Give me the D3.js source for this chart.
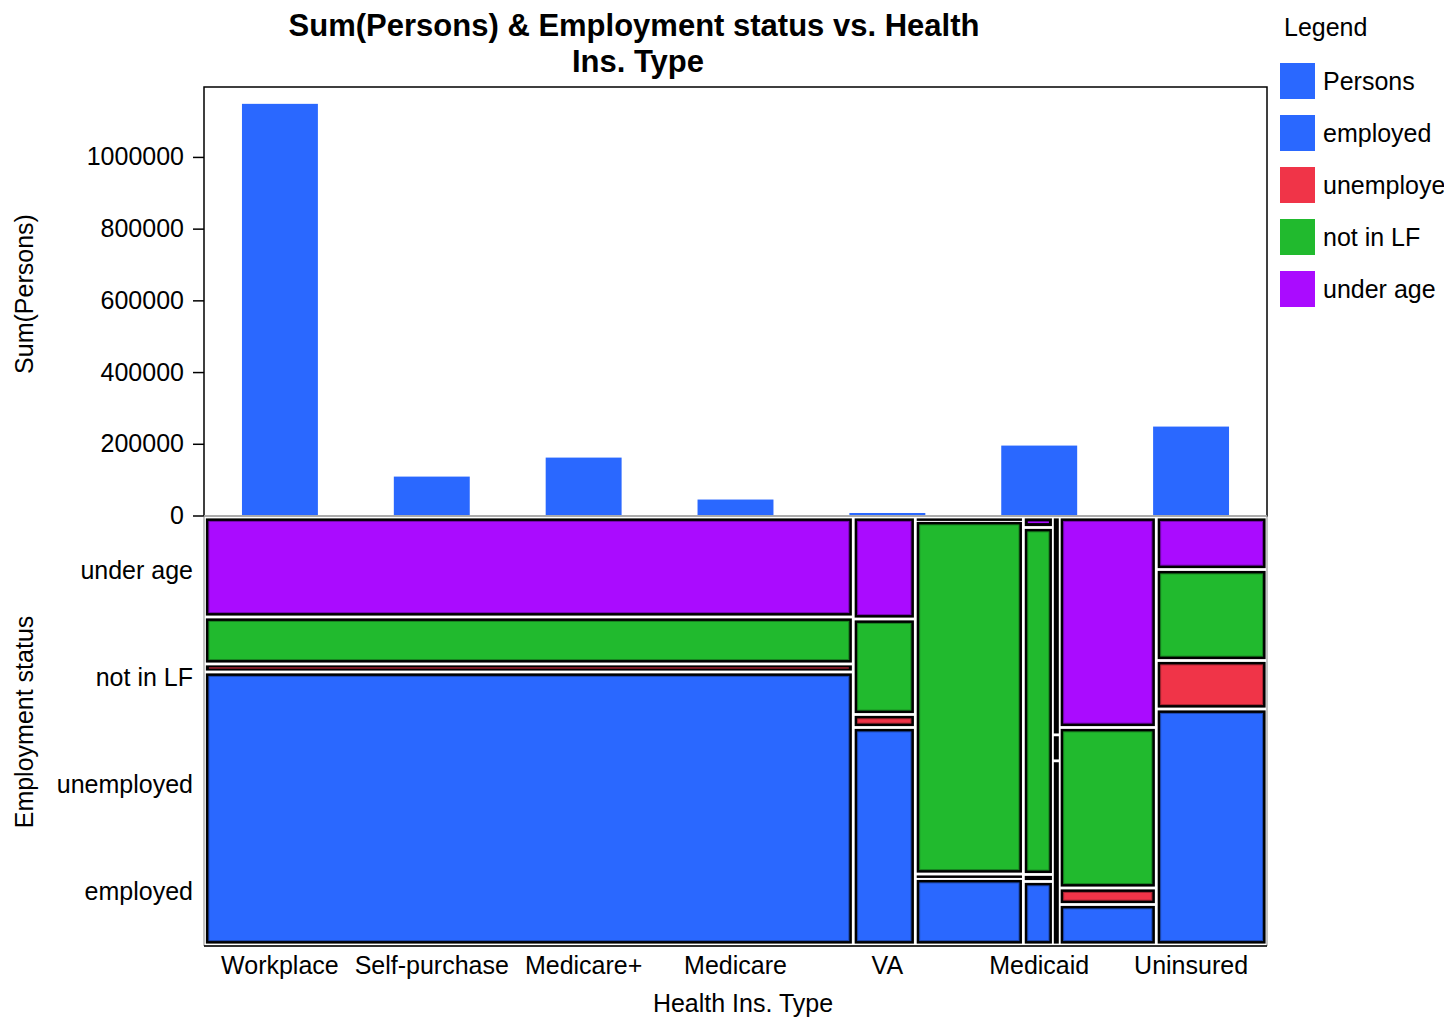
<!DOCTYPE html>
<html><head><meta charset="utf-8">
<script src="https://cdn.jsdelivr.net/npm/d3@7"></script>
<style>body{margin:0;background:#fff} text{font-family:"Liberation Sans",Arial,sans-serif;fill:#000}</style>
</head><body><svg id="c" width="1444" height="1020"></svg>
<script>
const categories = ["Workplace","Self-purchase","Medicare+","Medicare","VA","Medicaid","Uninsured"];
const sumPersons = [1148000,108500,161500,44500,7000,195000,248000];
const statuses = ["under age","not in LF","unemployed","employed"];
const mosaicShare = [0.6106,0.0584,0.1017,0.0282,0.0056,0.0913,0.1042];
const underAge   = [0.2336,0.2383,0.0082,0.0245,0.0000,0.4918,0.1227];
const notInLF    = [0.1098,0.2231,0.8260,0.8107,0.5090,0.3750,0.2126];
const unemployed = [0.0187,0.0304,0.0105,0.0164,0.0607,0.0386,0.1133];
const employed   = [0.6379,0.5082,0.1553,0.1484,0.4303,0.0946,0.5514];
const yTicks = [0,200000,400000,600000,800000,1000000];
const legendItems = ["Persons","employed","unemployed","not in LF","under age"];
const palette = ["#2a68ff","#2a68ff","#f03448","#21ba2e","#aa0bff"];

const color = d3.scaleOrdinal().domain(legendItems).range(palette);
const svg = d3.select("#c");
const L = 204, R = 1267, T = 87, MID = 516, B = 946;

// top bar panel
const x = d3.scaleBand().domain(categories).range([L, R]).paddingInner(0.5).paddingOuter(0.25);
const y = d3.scaleLinear().domain([0, 1195000]).range([515.5, T]);

svg.append("g").selectAll("rect").data(categories).join("rect")
  .attr("x", d => x(d)).attr("width", x.bandwidth())
  .attr("y", (d,i) => y(sumPersons[i])).attr("height", (d,i) => y(0) - y(sumPersons[i]))
  .attr("fill", color("Persons"));

const yAxis = svg.append("g").attr("transform", `translate(${L},0)`)
  .call(d3.axisLeft(y).tickValues(yTicks).tickFormat(d3.format("d")).tickSize(11).tickPadding(9));
yAxis.select(".domain").remove();
yAxis.selectAll("line").attr("stroke","#000").attr("stroke-width",1.5);
yAxis.selectAll("text").style("font-size","25px").attr("font-family",null);

svg.append("rect").attr("x",L).attr("y",T).attr("width",R-L).attr("height",MID-T)
  .attr("fill","none").attr("stroke","#000").attr("stroke-width",1.5);

// mosaic panel
const mx = d3.scaleLinear().domain([0,1]).range([L+0.5, R]);
const my = d3.scaleLinear().domain([0,1]).range([517, 945]);
const props = [underAge, notInLF, unemployed, employed];
const cells = [];
let cx = 0;
categories.forEach((c, i) => {
  let cy = 0;
  statuses.forEach((s, j) => {
    const p = props[j][i];
    if (p > 0) cells.push({c, s, x0: cx, x1: cx + mosaicShare[i], y0: cy, y1: cy + p});
    cy += p;
  });
  cx += mosaicShare[i];
});
const g = svg.append("g");
cells.forEach(d => {
  const X0 = mx(d.x0), X1 = mx(d.x1), Y0 = my(d.y0), Y1 = my(d.y1);
  const w = X1 - X0;
  const ix = Math.min(1.4, w * 0.08), iy = 1.4;
  let bx = X0 + ix, bw = w - 2*ix, by = Y0 + iy, bh = Math.max(Y1 - Y0 - 2*iy, 2.5);
  g.append("rect").attr("x",bx).attr("y",by).attr("width",bw).attr("height",bh).attr("fill","#000");
  if (bw > 7 && bh > 5) {
    const col = color(d.s);
    const ins = Math.min(3, (bh - 1) / 2);
    const r = g.append("rect").attr("x",bx+3).attr("y",by+ins).attr("width",bw-6).attr("height",bh-2*ins)
      .attr("fill",col);
    if (bh > 10) r.attr("stroke",d3.color(col).darker(0.9)).attr("stroke-width",1);
  }
});
svg.append("line").attr("x1",L).attr("x2",R).attr("y1",MID).attr("y2",MID).attr("stroke","#d0d0d0").attr("stroke-width",1.5);
svg.append("path").attr("d",`M${L},${MID}V${B}H${R}V${MID}`).attr("fill","none").attr("stroke","#888").attr("stroke-width",1);
svg.append("line").attr("x1",L).attr("x2",R).attr("y1",B).attr("y2",B).attr("stroke","#000").attr("stroke-width",1.5);

const ys = d3.scaleBand().domain(statuses).range([517, 945]);
svg.append("g").selectAll("text").data(statuses).join("text")
  .attr("x",193).attr("y",d => ys(d) + ys.bandwidth()/2).attr("dy","0.35em")
  .attr("text-anchor","end").style("font-size","25px").text(d => d);

svg.append("g").selectAll("text").data(categories).join("text")
  .attr("x",d => x(d) + x.bandwidth()/2).attr("y",965).attr("dy","0.35em")
  .attr("text-anchor","middle").style("font-size","25px").text(d => d);

// axis titles
svg.append("text").attr("transform","translate(24,294) rotate(-90)").attr("dy","0.35em")
  .attr("text-anchor","middle").style("font-size","25px").text("Sum(Persons)");
svg.append("text").attr("transform","translate(24,722) rotate(-90)").attr("dy","0.35em")
  .attr("text-anchor","middle").style("font-size","25px").text("Employment status");
svg.append("text").attr("x",743).attr("y",1003).attr("dy","0.35em")
  .attr("text-anchor","middle").style("font-size","25px").text("Health Ins. Type");

// title
svg.append("text").attr("x",634).attr("y",25).attr("dy","0.35em").attr("text-anchor","middle")
  .style("font-size","31px").style("font-weight","bold").text("Sum(Persons) & Employment status vs. Health");
svg.append("text").attr("x",638).attr("y",61).attr("dy","0.35em").attr("text-anchor","middle")
  .style("font-size","31px").style("font-weight","bold").text("Ins. Type");

// legend
svg.append("text").attr("x",1284).attr("y",27).attr("dy","0.35em").style("font-size","25px").text("Legend");
const lg = svg.append("g").selectAll("g").data(legendItems).join("g")
  .attr("transform",(d,i) => `translate(1280,${63 + i*52})`);
lg.append("rect").attr("width",35).attr("height",36).attr("fill",d => color(d));
lg.append("text").attr("x",43).attr("y",18).attr("dy","0.35em").style("font-size","25px").text(d => d);
</script></body></html>
